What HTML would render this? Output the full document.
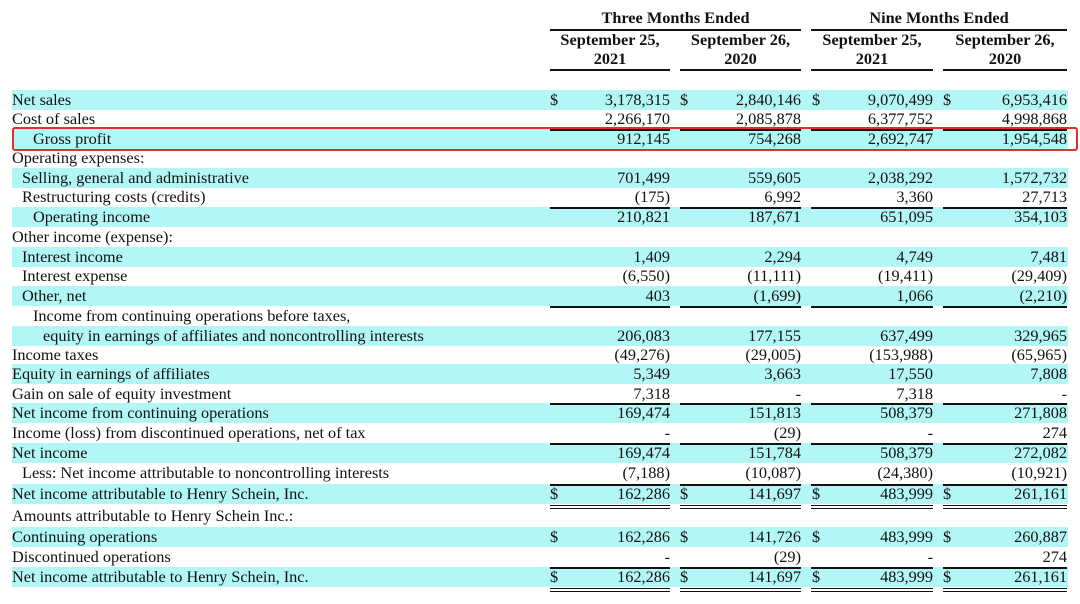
<!DOCTYPE html>
<html><head><meta charset="utf-8"><style>
*{margin:0;padding:0;box-sizing:border-box}
body{width:1080px;height:604px;background:#fff;position:relative;overflow:hidden;font-family:"Liberation Serif",serif;font-size:16.3px;color:#111}
.r{position:absolute;left:12px;width:1056px;height:20px;line-height:20px}
.c{background:#b3f6f6}
.l{position:absolute;white-space:nowrap}
.n{position:absolute;text-align:right;white-space:nowrap}
.d{position:absolute}
.h{position:absolute;font-weight:bold;text-align:center;white-space:nowrap;line-height:19px}
.ln{position:absolute;height:1.5px;background:#111}
#box{position:absolute;left:12px;top:127px;width:1066px;height:24px;border:2px solid #e0302a;border-radius:3px}
</style></head><body>
<div class="h" style="left:550px;width:251px;top:8px">Three Months Ended</div>
<div class="h" style="left:811px;width:256px;top:8px">Nine Months Ended</div>
<div class="ln" style="left:550px;width:251px;top:29px"></div>
<div class="ln" style="left:811px;width:256px;top:29px"></div>
<div class="h" style="left:550px;width:120px;top:30px">September 25,<br>2021</div>
<div class="h" style="left:680px;width:121px;top:30px">September 26,<br>2020</div>
<div class="h" style="left:811px;width:122px;top:30px">September 25,<br>2021</div>
<div class="h" style="left:943px;width:124px;top:30px">September 26,<br>2020</div>
<div class="ln" style="left:550px;width:120px;top:69px"></div>
<div class="ln" style="left:680px;width:121px;top:69px"></div>
<div class="ln" style="left:811px;width:122px;top:69px"></div>
<div class="ln" style="left:943px;width:124px;top:69px"></div>
<div id="rows"></div>
<script>
var R=[
[90,1,0,"Net sales",["3,178,315","2,840,146","9,070,499","6,953,416"],1],
[109,0,0,"Cost of sales",["2,266,170","2,085,878","6,377,752","4,998,868"]],
[129,1,21,"Gross profit",["912,145","754,268","2,692,747","1,954,548"]],
[148,0,0,"Operating expenses:",null],
[168,1,10,"Selling, general and administrative",["701,499","559,605","2,038,292","1,572,732"]],
[187,0,10,"Restructuring costs (credits)",["(175)","6,992","3,360","27,713"]],
[207,1,21,"Operating income",["210,821","187,671","651,095","354,103"]],
[227,0,0,"Other income (expense):",null],
[247,1,10,"Interest income",["1,409","2,294","4,749","7,481"]],
[266,0,10,"Interest expense",["(6,550)","(11,111)","(19,411)","(29,409)"]],
[286,1,10,"Other, net",["403","(1,699)","1,066","(2,210)"]],
[306,0,21,"Income from continuing operations before taxes,",null],
[326,1,31,"equity in earnings of affiliates and noncontrolling interests",["206,083","177,155","637,499","329,965"]],
[345,0,0,"Income taxes",["(49,276)","(29,005)","(153,988)","(65,965)"]],
[364,1,0,"Equity in earnings of affiliates",["5,349","3,663","17,550","7,808"]],
[384,0,0,"Gain on sale of equity investment",["7,318","-","7,318","-"]],
[403,1,0,"Net income from continuing operations",["169,474","151,813","508,379","271,808"]],
[423,0,0,"Income (loss) from discontinued operations, net of tax",["-","(29)","-","274"]],
[443,1,0,"Net income",["169,474","151,784","508,379","272,082"]],
[463,0,10,"Less: Net income attributable to noncontrolling interests",["(7,188)","(10,087)","(24,380)","(10,921)"]],
[484,1,0,"Net income attributable to Henry Schein, Inc.",["162,286","141,697","483,999","261,161"],1],
[506,0,0,"Amounts attributable to Henry Schein Inc.:",null],
[527,1,0,"Continuing operations",["162,286","141,726","483,999","260,887"],1],
[547,0,0,"Discontinued operations",["-","(29)","-","274"]],
[567,1,0,"Net income attributable to Henry Schein, Inc.",["162,286","141,697","483,999","261,161"],1]
];
var rights=[670,801,933,1067],dl=[550,680,812,943];
var h="";
R.forEach(function(r){
 h+='<div class="r'+(r[1]?' c':'')+'" style="top:'+r[0]+'px"><span class="l" style="left:'+r[2]+'px">'+r[3]+'</span></div>';
 if(r[4]){for(var i=0;i<4;i++){
  h+='<div class="n" style="top:'+r[0]+'px;line-height:20px;left:'+(rights[i]-110)+'px;width:110px">'+r[4][i]+'</div>';
  if(r[5])h+='<div class="d" style="top:'+r[0]+'px;line-height:20px;left:'+dl[i]+'px">$</div>';
 }}
});
var L=[[550,670],[680,801],[811,933],[943,1067]];
function line(y){L.forEach(function(s){h+='<div class="ln" style="left:'+s[0]+'px;width:'+(s[1]-s[0])+'px;top:'+y+'px"></div>'})}
[129,207,306,403,443,484,567].forEach(line);
[505,508,588,591].forEach(function(y){L.forEach(function(s){h+='<div class="ln" style="height:1.2px;left:'+s[0]+'px;width:'+(s[1]-s[0])+'px;top:'+y+'px"></div>'})});
document.getElementById('rows').innerHTML=h;
</script>
<div id="box"></div>
</body></html>
